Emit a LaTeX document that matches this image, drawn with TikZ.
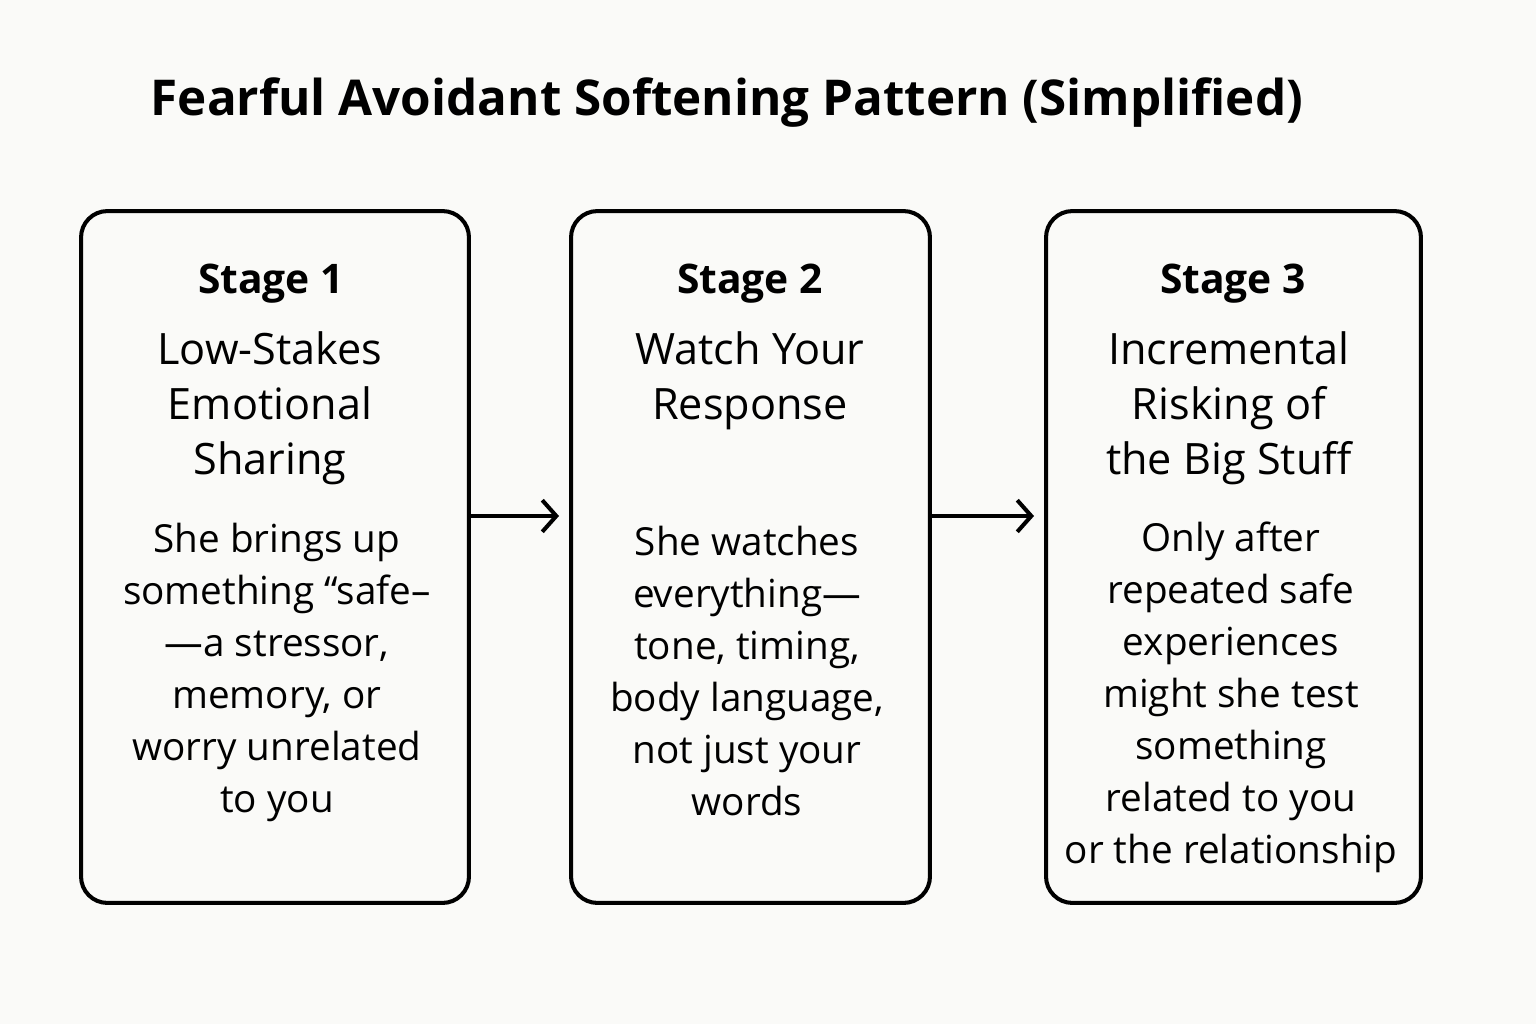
\documentclass[tikz,border=0pt]{standalone}
\usepackage{fontspec}
\setmainfont{Open Sans}
\usetikzlibrary{arrows.meta}
\definecolor{paper}{RGB}{250,250,248}
\tikzset{
	stagebox/.style={draw, line width=2.3pt, rounded corners=15pt, inner sep=0pt, minimum height=13.84cm},
	stagetitle/.style={font=\fontsize{23.2}{28}\selectfont\bfseries},
	stagehead/.style={font=\fontsize{24.6}{31.3}\selectfont, align=center},
	stagetext/.style={font=\fontsize{22}{29.6}\selectfont, align=center},
	flow/.style={-{Straight Barb[length=8pt, width=18pt, line width=2.3pt]}, line width=2.3pt, shorten >=0.2cm}
}

\begin{document}
\begin{tikzpicture}[x=0.02cm, y=-0.02cm]
	% Background and title:
	\fill[paper] (0,0) rectangle (1536,1024);
	\useasboundingbox (0,0) rectangle (1536,1024);
	\node[font=\fontsize{28.1}{34}\selectfont\bfseries](title) at (727, 103){Fearful Avoidant Softening Pattern (Simplified)};
	% Boxes:
	\node[stagebox, minimum width=7.76cm](S1) at (275, 557){};
	\node[stagebox, minimum width=7.18cm](S2) at (750.5, 557){};
	\node[stagebox, minimum width=7.5cm](S3) at (1233.5, 557){};
	% Stage 1
	\node[stagetitle](T1) at (271, 284){Stage 1};
	\node[stagehead](H1) at (270, 408){Low-Stakes\\Emotional\\Sharing};
	\node[stagetext](B1) at (277, 672){She brings up\\something “safe–\\—a stressor,\\memory, or\\worry unrelated\\to you};
	% Stage 2
	\node[stagetitle](T2) at (750, 284){Stage 2};
	\node[stagehead](H2) at (750, 381){Watch Your\\Response};
	\node[stagetext](B2) at (747, 671){She watches\\everything—\\tone, timing,\\body language,\\not just your\\words};
	% Stage 3
	\node[stagetitle](T3) at (1233, 284){Stage 3};
	\node[stagehead](H3) at (1229, 408){Incremental\\Risking of\\the Big Stuff};
	\node[stagetext](B3) at (1231, 697){Only after\\repeated safe\\experiences\\might she test\\something\\related to you\\or the relationship};
	% Arrows:
	\coordinate (A1) at (470, 516);
	\coordinate (A2) at (930, 516);
	\draw[flow] (A1) -- (A1 -| S2.west);
	\draw[flow] (A2) -- (A2 -| S3.west);
\end{tikzpicture}
\end{document}
